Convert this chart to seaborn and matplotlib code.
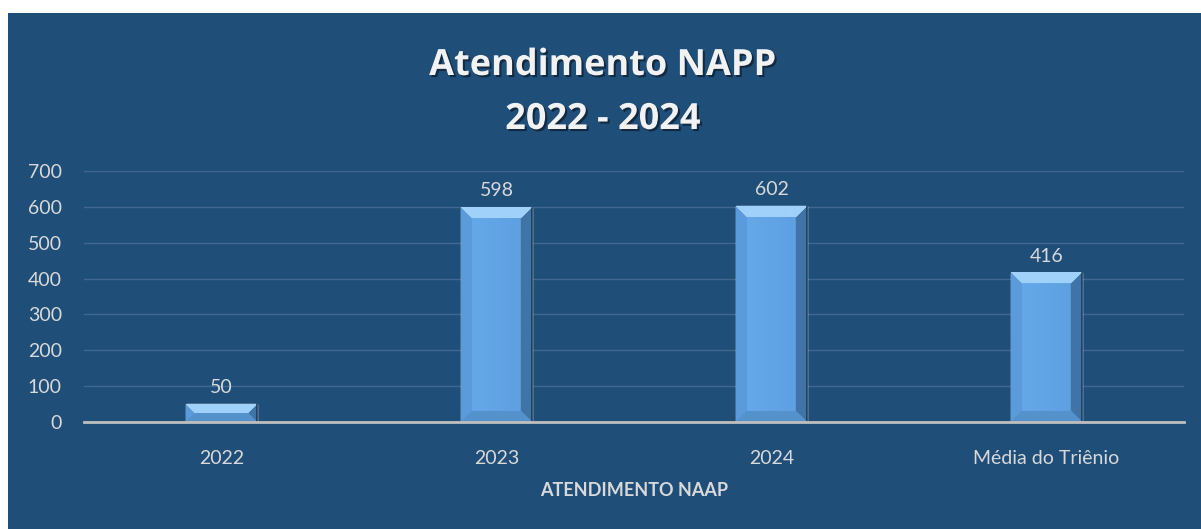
import numpy as np
import pandas as pd
import seaborn as sns
import matplotlib
matplotlib.use("Agg")
import matplotlib.pyplot as plt
import matplotlib.patheffects as pe
from matplotlib.colors import to_rgb

categorias = ["2022", "2023", "2024", "Média do Triênio"]
atendimentos = [50, 598, 602, 416]
y_ticks = [0, 100, 200, 300, 400, 500, 600, 700]

BG = "#1F4E79"
TXT = "#D9D9D9"

sns.set_theme(style="white")
plt.rcParams["font.family"] = ["Lato", "DejaVu Sans"]

df = pd.DataFrame({"categoria": categorias, "valor": atendimentos})

fig = plt.figure(figsize=(12.01, 5.29), dpi=100, facecolor="white")
# fundo azul com a margem branca em cima e a esquerda
fig.patches.append(plt.Rectangle((8 / 1201, 0), 1, 1 - 13 / 529, transform=fig.transFigure,
                                 facecolor=BG, edgecolor="none", zorder=-10))

ax = fig.add_axes([84 / 1201, 1 - 422 / 529, 1100 / 1201, 251 / 529])
ax.set_facecolor("none")

sns.barplot(data=df, x="categoria", y="valor", color="#62A5E6", width=0.255,
            saturation=1, ax=ax, zorder=3)

ax.set_ylim(0, 700)
ax.set_yticks(y_ticks)
ax.set_xlim(-0.5, len(categorias) - 0.5)
ax.grid(axis="y", color="#41698F", lw=1, zorder=0)
ax.set_axisbelow(True)
for s in ["top", "right", "left"]:
    ax.spines[s].set_visible(False)
ax.spines["bottom"].set_color("#BFBFBF")
ax.spines["bottom"].set_linewidth(2)
ax.spines["bottom"].set_zorder(6)
ax.tick_params(axis="both", length=0, labelsize=14, labelcolor=TXT)
ax.tick_params(axis="x", pad=20)
ax.tick_params(axis="y", pad=16)
ax.set_ylabel("")
ax.set_xlabel("ATENDIMENTO NAAP", fontsize=13, fontweight="bold", color=TXT, labelpad=11)

ax.bar_label(ax.containers[0], padding=6, fontsize=14, color=TXT)


# efeito chanfrado nas barras
def chanfro(patch, b=11):
    x0, y0 = patch.get_x(), patch.get_y()
    w, h = patch.get_width(), patch.get_height()
    p0 = ax.transData.transform((x0, y0))
    p1 = ax.transData.transform((x0 + w, y0 + h))
    W = max(int(round(p1[0] - p0[0])), 2)
    H = max(int(round(p1[1] - p0[1])), 2)
    bb = min(b, H // 2)
    face_l = np.array(to_rgb("#67AAEA"))
    face_r = np.array(to_rgb("#5C9EDF"))
    top = np.array(to_rgb("#9FD1FA"))
    left = np.array(to_rgb("#5B9BDB"))
    right = np.array(to_rgb("#4074A6"))
    bottom = np.array(to_rgb("#5592CC"))
    img = np.zeros((H, W, 3))
    for i in range(H):
        for j in range(W):
            d = {"t": i, "b": H - 1 - i, "l": j, "r": W - 1 - j}
            k = min(d, key=d.get)
            if d[k] >= bb:
                f = j / (W - 1)
                c = face_l * (1 - f) + face_r * f
            else:
                c = {"t": top, "b": bottom, "l": left, "r": right}[k]
            img[i, j] = c
    img = np.clip(img, 0, 1)
    ax.imshow(img, extent=[x0, x0 + w, y0, y0 + h], origin="upper", aspect="auto",
              interpolation="bilinear", zorder=4, clip_path=patch, clip_on=True)
    ax.plot([x0 + w, x0 + w], [y0, y0 + h], color="#173B5C", lw=1.2, zorder=5)


for p in ax.patches:
    chanfro(p)
ax.set_xlim(-0.5, len(categorias) - 0.5)
ax.set_ylim(0, 700)

sombra = [pe.withSimplePatchShadow(offset=(1.5, -1.5), shadow_rgbFace="black", alpha=0.45)]
titulo = dict(ha="center", va="center", fontsize=26, fontweight="bold", color="#F2F2F2",
              family=["Open Sans", "DejaVu Sans"], path_effects=sombra)
fig.text(0.502, 1 - 66 / 529, "Atendimento NAPP", **titulo)
fig.text(0.502, 1 - 120 / 529, "2022 - 2024", **titulo)

fig.savefig("out.png", dpi=100, facecolor=fig.get_facecolor())
